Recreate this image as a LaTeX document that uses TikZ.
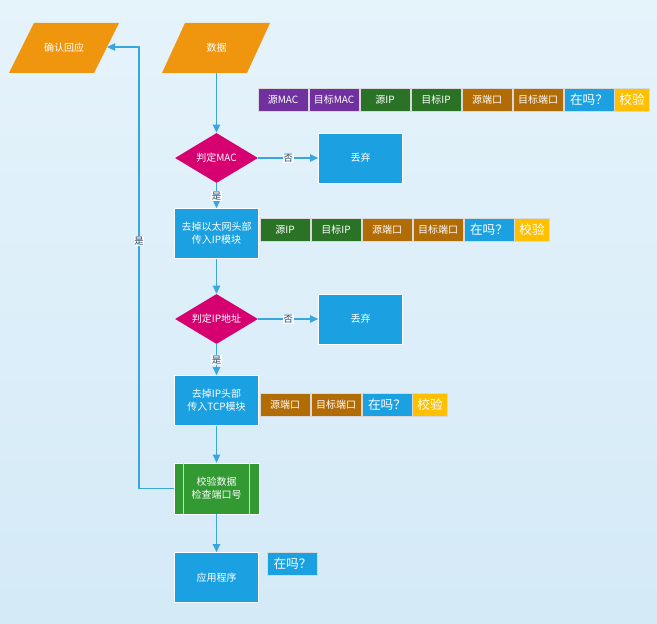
\documentclass[tikz,border=0pt]{standalone}
\usepackage{fontspec}
\setmainfont{Noto Sans CJK SC}
\usetikzlibrary{arrows.meta,shapes.geometric}
\definecolor{bgtop}{RGB}{229,243,251}
\definecolor{bgbot}{RGB}{212,234,247}
\definecolor{corange}{RGB}{240,150,14}
\definecolor{cmag}{RGB}{214,0,112}
\definecolor{cblue}{RGB}{27,161,226}
\definecolor{cgreen}{RGB}{51,153,51}
\definecolor{cpurple}{RGB}{112,48,160}
\definecolor{cdgreen}{RGB}{42,115,38}
\definecolor{cbrown}{RGB}{178,108,5}
\definecolor{cyellow}{RGB}{255,192,0}
\definecolor{cline}{RGB}{58,166,222}
\definecolor{clabel}{RGB}{40,70,100}
\begin{document}
\begin{tikzpicture}[x=0.75pt,y=-0.75pt,
  every node/.style={font=\fontsize{7.5}{9.5}\selectfont, text=white, inner sep=0pt},
  procbox/.style={rectangle, fill=cblue, draw=white, line width=0.5pt, minimum width=84*0.75pt, minimum height=50*0.75pt, align=center},
  decide/.style={diamond, fill=cmag, aspect=1.66, minimum width=83*0.75pt, minimum height=50*0.75pt},
  field/.style={rectangle, draw=white!85!black, line width=0.5pt, minimum width=50*0.75pt, minimum height=23*0.75pt},
  bigfield/.style={field, font=\fontsize{9.5}{11}\selectfont},
  conn/.style={draw=cline, line width=0.8pt, -{Triangle[length=6pt,width=5.5pt]}},
  lab/.style={text=clabel, fill=white!70!bgtop, inner sep=0.6pt, font=\fontsize{7}{8}\selectfont}
]
\useasboundingbox (0,0) rectangle (657,624);
\shade[top color=bgtop, bottom color=bgbot] (0,0) rectangle (657,624);

% parallelograms
\fill[corange] (34,23) -- (119,23) -- (94,73) -- (9,73) -- cycle;
\node[minimum width=60*0.75pt, minimum height=50*0.75pt] (confirm) at (64,48) {确认回应};
\coordinate (ctip) at (107,47);
\fill[corange] (185,23) -- (270,23) -- (247,73) -- (162,73) -- cycle;
\node[minimum width=60*0.75pt, minimum height=50*0.75pt] (data) at (216.5,48) {数据};

% row 1 fields
\node[field, fill=cpurple] (f1a) at (283,99.5) {源MAC};
\node[field, fill=cpurple] (f1b) at (334,99.5) {目标MAC};
\node[field, fill=cdgreen] (f1c) at (385,99.5) {源IP};
\node[field, fill=cdgreen] (f1d) at (436,99.5) {目标IP};
\node[field, fill=cbrown] (f1e) at (487,99.5) {源端口};
\node[field, fill=cbrown] (f1f) at (538,99.5) {目标端口};
\node[bigfield, fill=cblue] (f1g) at (589,99.5) {在吗？};
\node[bigfield, fill=cyellow, minimum width=35*0.75pt] (f1h) at (632,99.5) {校验};

% MAC decision
\node[decide] (mac) at (216.5,158) {判定MAC};
\node[procbox] (drop1) at (360.5,158) {丢弃};

% eth box
\node[procbox] (eth) at (216.5,233.5) {去掉以太网头部\\传入IP模块};
\node[field, fill=cdgreen] (f2a) at (285,229.5) {源IP};
\node[field, fill=cdgreen] (f2b) at (336,229.5) {目标IP};
\node[field, fill=cbrown] (f2c) at (387,229.5) {源端口};
\node[field, fill=cbrown] (f2d) at (438,229.5) {目标端口};
\node[bigfield, fill=cblue] (f2e) at (489,229.5) {在吗？};
\node[bigfield, fill=cyellow, minimum width=35*0.75pt] (f2f) at (532,229.5) {校验};

% IP decision
\node[decide] (ip) at (216.5,319) {判定IP地址};
\node[procbox] (drop2) at (360.5,319) {丢弃};

% tcp box
\node[procbox] (tcp) at (216.5,400.5) {去掉IP头部\\传入TCP模块};
\node[field, fill=cbrown] (f3a) at (285,404.5) {源端口};
\node[field, fill=cbrown] (f3b) at (336,404.5) {目标端口};
\node[bigfield, fill=cblue] (f3c) at (387,404.5) {在吗？};
\node[bigfield, fill=cyellow, minimum width=35*0.75pt] (f3d) at (430,404.5) {校验};

% check box
\node[procbox, fill=cgreen, minimum width=85*0.75pt, minimum height=51*0.75pt] (check) at (216.5,488.5) {校验数据\\检查端口号};
\draw[white!70!cgreen, line width=0.6pt] ([xshift=7.5pt]check.north west) -- ([xshift=7.5pt]check.south west);
\draw[white!70!cgreen, line width=0.6pt] ([xshift=-7.5pt]check.north east) -- ([xshift=-7.5pt]check.south east);

% app
\node[procbox] (app) at (216.5,577.5) {应用程序};
\node[bigfield, fill=cblue] (f4a) at (292.5,563.5) {在吗？};

% connectors
\draw[conn] (data.south) -- (mac.north);
\draw[conn] (mac.east) -- node[lab] {否} (drop1.west);
\draw[conn] (mac.south) -- node[lab, pos=0.5] {是} (eth.north);
\draw[conn] (eth.south) -- (ip.north);
\draw[conn] (ip.east) -- node[lab] {否} (drop2.west);
\draw[conn] (ip.south) -- node[lab, pos=0.5] {是} (tcp.north);
\draw[conn] (tcp.south) -- (check.north);
\draw[conn] (check.south) -- (app.north);
\coordinate (turn) at (139,488.5);
\draw[conn] (check.west) -- (turn) |- (ctip);
\node[lab] (yes3) at (139,241) {是};
\end{tikzpicture}
\end{document}
